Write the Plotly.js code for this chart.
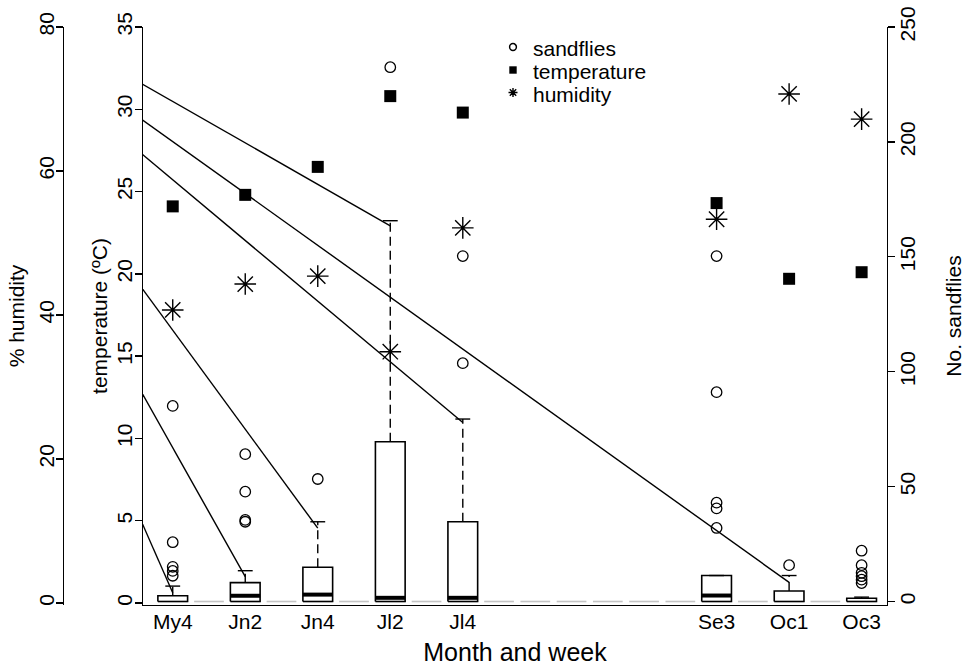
<!DOCTYPE html>
<html>
<head>
<meta charset="utf-8">
<script src="https://cdn.plot.ly/plotly-3.0.1.min.js"></script>
<style>html,body{margin:0;padding:0;background:#fff;}#chart{width:969px;height:668px;}</style>
</head>
<body>
<div id="chart"></div>
<script>
// ---- data ----
const weeks = ['My4','Jn1','Jn2','Jn3','Jn4','Jl1','Jl2','Jl3','Jl4','Au1','Au2','Au3','Au4','Se1','Se2','Se3','Se4','Oc1','Oc2','Oc3'];
const sampledWeeks = ['My4','Jn2','Jn4','Jl2','Jl4','Se3','Oc1','Oc3'];
const temperature = [24.1, 24.8, 26.5, 30.8, 29.8, 24.3, 19.7, 20.1];
const humidity = [40.7, 44.3, 45.4, 34.9, 52.1, 53.3, 70.7, 67.2];
const sandQ1 = [0, 0, 0, 0, 0, 0, 0, 0];
const sandMedian = [null, 2.5, 3.0, 1.6, 1.6, 2.6, null, null];
const sandQ3 = [2.5, 8.2, 14.9, 69.5, 34.7, 11.3, 4.6, 1.4];
const sandUpper = [6.7, 13.4, 34.7, 165.7, 79.4, 11.3, 11.3, 1.9];
const sandOutliers = [
  [85.1, 25.8, 15.1, 13.3, 11.2],
  [64.1, 47.8, 35.5, 34.7],
  [53.3],
  [232.5],
  [150.3, 103.7],
  [150.3, 91.1, 43.0, 40.5, 32.0],
  [15.8],
  [22.1, 15.8, 12.5, 11.0, 9.5, 8.0]
];
// slanted whisker lines: value at week position 0, end at a week
const slantStartY = [39.7, 95.0, 139.6, 226.6, 196.7, 211.4];
const slantEndWeek = ['My4', 'Jn2', 'Jn4', 'Jl2', 'Jl4', 'Oc1'];
const slantEndY = [3.8, 10.8, 31.9, 163.5, 77.9, 8.3];
const tickWeeks = sampledWeeks;
const legendLabels = ['sandflies', 'temperature', 'humidity'];

// ---- helpers ----
const pos = w => weeks.indexOf(w) + 1;
const HW = 0.41;
const FONT = 'Liberation Sans, Arial, Helvetica, sans-serif';
const sx = sampledWeeks.map(pos);

const zx = [], zy = [];
weeks.forEach(w => { const p = pos(w); zx.push(p - HW, p + HW, null); zy.push(0, 0, null); });

const bx = [], by = [], mx = [], my = [], wx = [], wy = [], cx = [], cy = [], ox = [], oy = [];
sampledWeeks.forEach((w, i) => {
  const p = pos(w);
  bx.push(p - HW, p + HW, p + HW, p - HW, p - HW, null);
  by.push(sandQ1[i], sandQ1[i], sandQ3[i], sandQ3[i], sandQ1[i], null);
  if (sandMedian[i] !== null) { mx.push(p - HW, p + HW, null); my.push(sandMedian[i], sandMedian[i], null); }
  wx.push(p, p, null); wy.push(sandQ3[i], sandUpper[i], null);
  cx.push(p - HW / 2, p + HW / 2, null); cy.push(sandUpper[i], sandUpper[i], null);
  sandOutliers[i].forEach(v => { ox.push(p); oy.push(v); });
});
const lx = [], ly = [];
slantEndWeek.forEach((w, i) => { lx.push(0, pos(w), null); ly.push(slantStartY[i], slantEndY[i], null); });

const data = [
  {x:sx, y:temperature, type:'scatter', mode:'markers', name:'temperature', showlegend:false,
   marker:{symbol:'square', size:12, color:'black'}},
  {x:sx, y:humidity, type:'scatter', mode:'markers', name:'humidity', yaxis:'y2', showlegend:false,
   marker:{symbol:'asterisk-open', size:18, color:'black', line:{width:1.4, color:'black'}}},
  {x:zx, y:zy, type:'scatter', mode:'lines', yaxis:'y3', showlegend:false, hoverinfo:'skip',
   line:{color:'#c4c4c4', width:1.6}},
  {x:lx, y:ly, type:'scatter', mode:'lines', yaxis:'y3', showlegend:false, hoverinfo:'skip',
   line:{color:'black', width:1.4}},
  {x:wx, y:wy, type:'scatter', mode:'lines', yaxis:'y3', showlegend:false, hoverinfo:'skip',
   line:{color:'black', width:1.4, dash:'9px,5px'}},
  {x:cx, y:cy, type:'scatter', mode:'lines', yaxis:'y3', showlegend:false, hoverinfo:'skip',
   line:{color:'black', width:1.4}},
  {x:bx, y:by, type:'scatter', mode:'lines', yaxis:'y3', showlegend:false, hoverinfo:'skip',
   line:{color:'black', width:1.6}},
  {x:mx, y:my, type:'scatter', mode:'lines', yaxis:'y3', showlegend:false, hoverinfo:'skip',
   line:{color:'black', width:4}},
  {x:ox, y:oy, type:'scatter', mode:'markers', name:'sandflies', yaxis:'y3', showlegend:false,
   marker:{symbol:'circle-open', size:10.5, color:'black', line:{width:1.3, color:'black'}}}
];

const PL = 40, PR = 40, PT = 27, PB = 63, W = 969, H = 668;
const pw = W - PL - PR, ph = H - PT - PB;
const axLeft = 143, axRight = 887, humX = 63;
const px2x = v => (v - PL) / pw;
const px2y = v => (H - PB - v) / ph;

// legend (R style, no box)
const legKeyX = 513, legTextX = 531, legRowY = [47, 70, 92.5];
const annotations = legendLabels.map((t, i) => ({
  text:t, xref:'paper', yref:'paper', x:px2x(legTextX), y:px2y(legRowY[i] + 1.5),
  xanchor:'left', yanchor:'middle', showarrow:false, font:{family:FONT, size:21, color:'black'}
}));
const keyBase = i => ({xref:'paper', yref:'paper', xsizemode:'pixel', ysizemode:'pixel',
  xanchor:px2x(legKeyX), yanchor:px2y(legRowY[i])});
const shapes = [
  Object.assign(keyBase(0), {type:'circle', x0:-3.4, x1:3.4, y0:-3.4, y1:3.4, line:{color:'black', width:1.5}}),
  Object.assign(keyBase(1), {type:'rect', x0:-3.7, x1:3.7, y0:-3.7, y1:3.7, fillcolor:'black', line:{width:0}}),
  Object.assign(keyBase(2), {type:'path', path:'M-4.5,0L4.5,0M0,-4.5L0,4.5M-3.2,-3.2L3.2,3.2M-3.2,3.2L3.2,-3.2',
    line:{color:'black', width:1.4}})
];

const yCommon = {showgrid:false, zeroline:false, showline:true, linecolor:'black', linewidth:1.3,
  ticks:'outside', ticklen:7, tickwidth:1.3, tickcolor:'black', tickangle:-90, ticklabelstandoff:-6,
  tickfont:{family:FONT, size:21, color:'black'}, automargin:false};

const layout = {
  width:W, height:H,
  margin:{l:PL, r:PR, t:PT, b:PB},
  paper_bgcolor:'white', plot_bgcolor:'white',
  font:{family:FONT, color:'black'},
  showlegend:false,
  annotations:annotations,
  shapes:shapes,
  xaxis:{domain:[px2x(axLeft), px2x(axRight)], range:[0.18, 20.7],
    tickvals:tickWeeks.map(pos), ticktext:tickWeeks, ticks:'', ticklabelstandoff:-3, showgrid:false, zeroline:false,
    showline:true, linecolor:'black', linewidth:1.3, tickfont:{family:FONT, size:21, color:'black'},
    title:{text:'Month and week', font:{family:FONT, size:25, color:'black'}, standoff:12}},
  yaxis:Object.assign({}, yCommon, {range:[-0.1215, 35], tickvals:[0,5,10,15,20,25,30,35],
    title:{text:'temperature (ºC)', font:{family:FONT, size:21, color:'black'}, standoff:0}}),
  yaxis2:Object.assign({}, yCommon, {overlaying:'y', anchor:'free', side:'left', position:px2x(humX),
    range:[-0.278, 80], tickvals:[0,20,40,60,80],
    title:{text:'% humidity', font:{family:FONT, size:21, color:'black'}, standoff:3}}),
  yaxis3:Object.assign({}, yCommon, {overlaying:'y', anchor:'x', side:'right',
    range:[-1.523, 250], tickvals:[0,50,100,150,200,250],
    title:{text:'No. sandflies', font:{family:FONT, size:21, color:'black'}, standoff:28}})
};

Plotly.newPlot('chart', data, layout, {displayModeBar:false, staticPlot:true});
</script>
</body>
</html>
